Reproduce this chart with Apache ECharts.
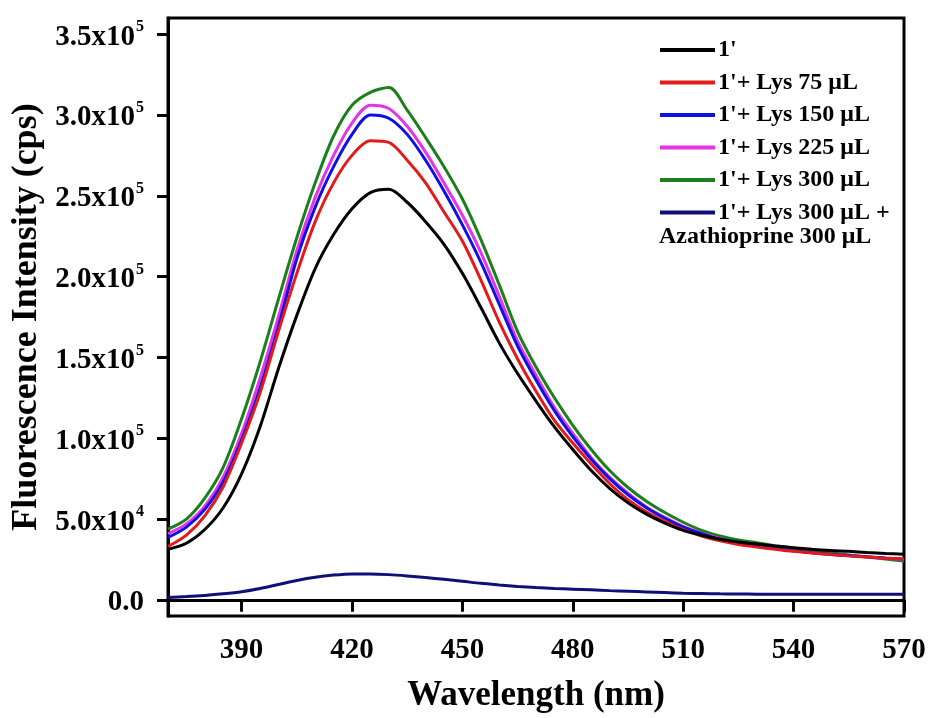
<!DOCTYPE html>
<html>
<head>
<meta charset="utf-8">
<script src="https://cdn.jsdelivr.net/npm/echarts@6/dist/echarts.min.js"></script>
<style>
html,body{margin:0;padding:0;background:#fff;}
#c{width:931px;height:718px;}
</style>
</head>
<body>
<div id="c"></div>
<script>
const wavelengths = [370,375,380,385,390,395,400,405,410,415,420,425,430,435,440,445,450,455,460,465,470,475,480,485,490,495,500,505,510,515,520,525,530,535,540,545,550,555,560,565,570];

const s1 = [31200,35000,43500,57000,78000,107000,143000,176000,205000,226000,242000,252000,254000,246000,234000,220000,202000,181000,159000,140000,123000,107000,93000,80000,69000,60000,53000,47500,43000,40000,37500,35800,34500,33300,32300,31300,30500,30000,29300,28700,28200];
const s75 = [33000,40000,52000,70000,97000,128000,166000,202000,234000,258000,275000,284000,283000,272000,258000,240000,222000,198000,172000,149000,129000,111000,97000,84000,72000,62000,54500,48500,43500,39500,36500,34300,32700,31300,30000,29000,28000,27200,26500,25800,25200];
const s150 = [38600,45000,56000,73000,99000,131000,169000,211000,243000,268000,288000,300000,298000,288000,272000,253000,232000,209000,183000,157000,136000,117000,101000,87000,75000,65000,57000,50500,45000,41000,37500,35000,33300,31800,30300,29200,28200,27400,26600,25900,25300];
const s225 = [41000,47000,58000,76000,103000,137000,175000,216000,249000,275000,295000,306000,304000,293000,277000,258000,238000,215000,188000,160000,139000,119000,103000,88000,76000,66000,57500,51000,45500,41300,37800,35200,33400,31800,30300,29100,28100,27300,26500,25700,25000];
const s300 = [43800,50000,63000,82000,112000,147000,186000,224000,258000,287000,306000,314000,317000,303000,286000,268000,248000,223000,195000,166000,144000,125000,108000,93000,80000,69500,61000,54000,48000,43000,39500,37000,35300,33500,31800,30300,29000,27800,26500,25200,24000];
const sAza = [1500,2000,2700,3700,5000,7000,9500,12000,14000,15300,16000,16000,15600,14800,13800,12700,11500,10200,9200,8300,7600,7000,6600,6200,5700,5300,4900,4500,4100,3900,3700,3600,3500,3500,3500,3500,3500,3500,3500,3500,3500];

const seriesNames = ["1'", "1'+ Lys 75 \u03bcL", "1'+ Lys 150 \u03bcL", "1'+ Lys 225 \u03bcL", "1'+ Lys 300 \u03bcL", "1'+ Lys 300 \u03bcL +"];
const seriesColors = ['#000000', '#e41a1a', '#1010e6', '#e633e6', '#1b7f1b', '#0f0f78'];
const seriesData = [s1, s75, s150, s225, s300, sAza];

const xTicks = [390,420,450,480,510,540,570];
const yTicks = [0,50000,100000,150000,200000,250000,300000,350000];
const yTickText = {0:['0.0',''],50000:['5.0x10','4'],100000:['1.0x10','5'],150000:['1.5x10','5'],200000:['2.0x10','5'],250000:['2.5x10','5'],300000:['3.0x10','5'],350000:['3.5x10','5']};

const FONT = '"Liberation Serif", "Times New Roman", serif';

const chart = echarts.init(document.getElementById('c'), null, {renderer:'canvas'});

const series = seriesData.map((d, i) => ({
  name: seriesNames[i],
  type: 'line',
  data: wavelengths.map((w, k) => [w, d[k]]),
  showSymbol: false,
  smooth: 0.3,
  lineStyle: {color: seriesColors[i], width: 3},
  itemStyle: {color: seriesColors[i]},
  z: i === 5 ? 2 : 3 + (5 - i)
}));

chart.setOption({
  animation: false,
  backgroundColor: '#fff',
  grid: {left: 168, right: 27, top: 18, bottom: 100, show: true, borderColor: '#000', borderWidth: 3, backgroundColor: 'transparent'},
  legend: {
    orient: 'vertical',
    left: 655,
    top: 32,
    icon: 'rect',
    itemWidth: 55,
    itemHeight: 4,
    itemGap: 6.5,
    data: seriesNames,
    textStyle: {fontFamily: FONT, fontWeight: 'bold', fontSize: 24, color: '#000', lineHeight: 26, padding: [0,0,0,-2]}
  },
  graphic: [{
    type: 'text',
    left: 659,
    top: 225,
    style: {text: 'Azathioprine 300 \u03bcL', fontFamily: FONT, fontWeight: 'bold', fontSize: 24, fill: '#000'}
  }],
  xAxis: {
    type: 'value',
    min: 370,
    max: 570,
    name: 'Wavelength (nm)',
    nameLocation: 'middle',
    nameGap: 62,
    nameTextStyle: {fontFamily: FONT, fontWeight: 'bold', fontSize: 35, color: '#000'},
    axisLine: {lineStyle: {color: '#000', width: 3}},
    axisTick: {show: true, inside: false, length: 12, lineStyle: {width: 3, color: '#000'}, customValues: xTicks},
    axisLabel: {fontFamily: FONT, fontWeight: 'bold', fontSize: 29, color: '#000', margin: 20, customValues: xTicks},
    splitLine: {show: false}
  },
  yAxis: {
    type: 'value',
    min: -10000,
    max: 360000,
    name: 'Fluorescence Intensity (cps)',
    nameLocation: 'middle',
    nameGap: 118,
    nameRotate: 90,
    nameTextStyle: {fontFamily: FONT, fontWeight: 'bold', fontSize: 36, color: '#000'},
    axisLine: {lineStyle: {color: '#000', width: 3}},
    axisTick: {show: true, inside: false, length: 11, lineStyle: {width: 3, color: '#000'}, customValues: yTicks},
    axisLabel: {
      fontFamily: FONT, fontWeight: 'bold', fontSize: 29, color: '#000', margin: 24,
      customValues: yTicks,
      formatter: function (v) {
        const t = yTickText[v];
        if (!t) return '';
        return t[1] ? '{m|' + t[0] + '}{s|' + t[1] + '}' : '{m|' + t[0] + '}';
      },
      rich: {
        m: {fontFamily: FONT, fontWeight: 'bold', fontSize: 29, color: '#000', padding: [6,0,0,0]},
        s: {fontFamily: FONT, fontWeight: 'bold', fontSize: 16, color: '#000', padding: [0,0,14,1]}
      }
    },
    splitLine: {show: false}
  },
  series: series
});
</script>
</body>
</html>
